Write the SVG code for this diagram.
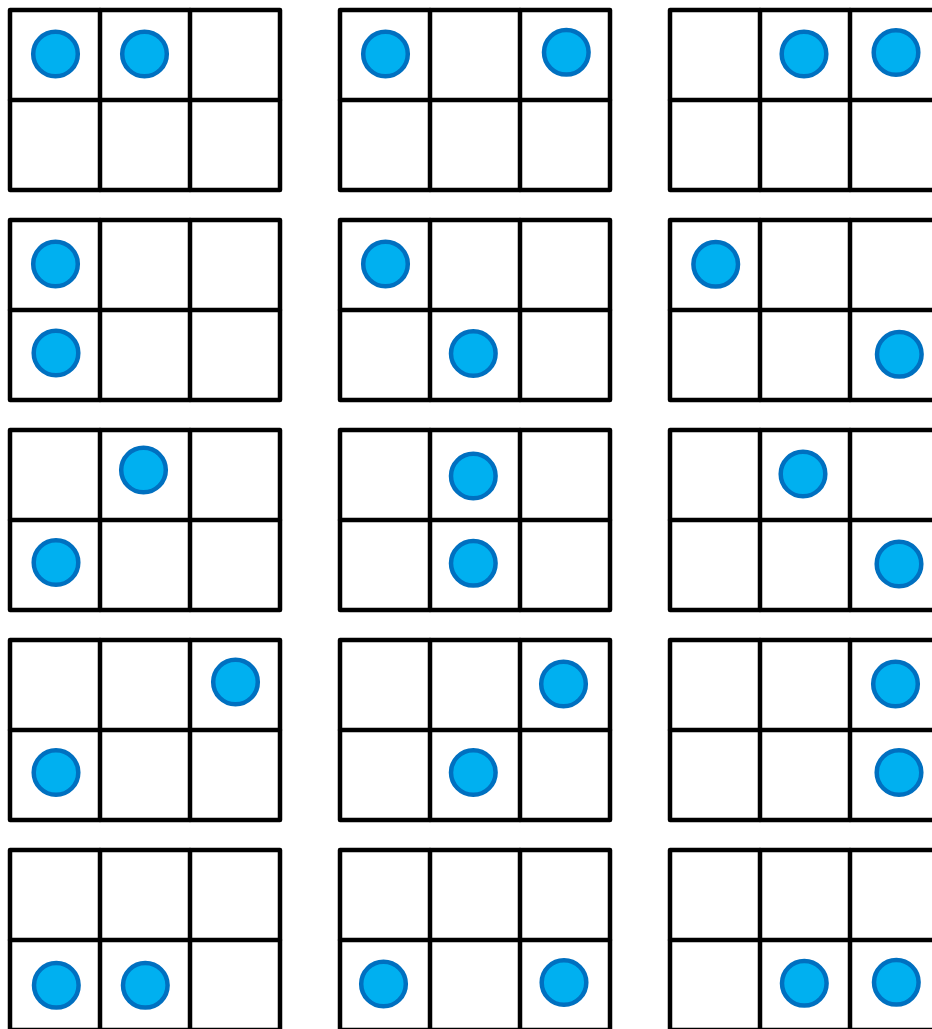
<svg xmlns="http://www.w3.org/2000/svg" width="932" height="1029" viewBox="0 0 932 1029">
<style>
.grid{fill:none;stroke:#000;stroke-width:4.5;stroke-linejoin:round;stroke-linecap:round}
.dot{fill:#00B0F0;stroke:#0070C0;stroke-width:4.5}
</style>
<defs>
<g id="board">
<rect class="grid" x="0" y="0" width="270" height="180"/>
<path class="grid" d="M0 90H270M90 0V180M180 0V180"/>
</g>
</defs>
<rect width="932" height="1029" fill="#fff"/>
<g id="p1"><use href="#board" x="10" y="10"/><circle class="dot" cx="55.5" cy="54" r="22.3"/><circle class="dot" cx="144.5" cy="54" r="22.3"/></g>
<g id="p2"><use href="#board" x="340" y="10"/><circle class="dot" cx="385.5" cy="54" r="22.3"/><circle class="dot" cx="566.3" cy="52.3" r="22.3"/></g>
<g id="p3"><use href="#board" x="670" y="10"/><circle class="dot" cx="804" cy="54" r="22.3"/><circle class="dot" cx="896" cy="52.5" r="22.3"/></g>
<g id="p4"><use href="#board" x="10" y="220"/><circle class="dot" cx="55.5" cy="264" r="22.3"/><circle class="dot" cx="56" cy="353" r="22.3"/></g>
<g id="p5"><use href="#board" x="340" y="220"/><circle class="dot" cx="385.5" cy="264" r="22.3"/><circle class="dot" cx="473.3" cy="353.5" r="22.3"/></g>
<g id="p6"><use href="#board" x="670" y="220"/><circle class="dot" cx="715.7" cy="264.3" r="22.3"/><circle class="dot" cx="899.3" cy="354.3" r="22.3"/></g>
<g id="p7"><use href="#board" x="10" y="430"/><circle class="dot" cx="143.5" cy="470" r="22.3"/><circle class="dot" cx="56" cy="562.5" r="22.3"/></g>
<g id="p8"><use href="#board" x="340" y="430"/><circle class="dot" cx="473.3" cy="476" r="22.3"/><circle class="dot" cx="473.3" cy="563.3" r="22.3"/></g>
<g id="p9"><use href="#board" x="670" y="430"/><circle class="dot" cx="803" cy="474" r="22.3"/><circle class="dot" cx="899" cy="564" r="22.3"/></g>
<g id="p10"><use href="#board" x="10" y="640"/><circle class="dot" cx="235.5" cy="682" r="22.3"/><circle class="dot" cx="56" cy="772.5" r="22.3"/></g>
<g id="p11"><use href="#board" x="340" y="640"/><circle class="dot" cx="563.5" cy="684" r="22.3"/><circle class="dot" cx="473.3" cy="772.5" r="22.3"/></g>
<g id="p12"><use href="#board" x="670" y="640"/><circle class="dot" cx="895.5" cy="684" r="22.3"/><circle class="dot" cx="899" cy="772.5" r="22.3"/></g>
<g id="p13"><use href="#board" x="10" y="850"/><circle class="dot" cx="56.3" cy="985.3" r="22.3"/><circle class="dot" cx="145.3" cy="985.3" r="22.3"/></g>
<g id="p14"><use href="#board" x="340" y="850"/><circle class="dot" cx="383.5" cy="984" r="22.3"/><circle class="dot" cx="564" cy="982.5" r="22.3"/></g>
<g id="p15"><use href="#board" x="670" y="850"/><circle class="dot" cx="804.3" cy="983.3" r="22.3"/><circle class="dot" cx="896.3" cy="982.3" r="22.3"/></g>
</svg>
